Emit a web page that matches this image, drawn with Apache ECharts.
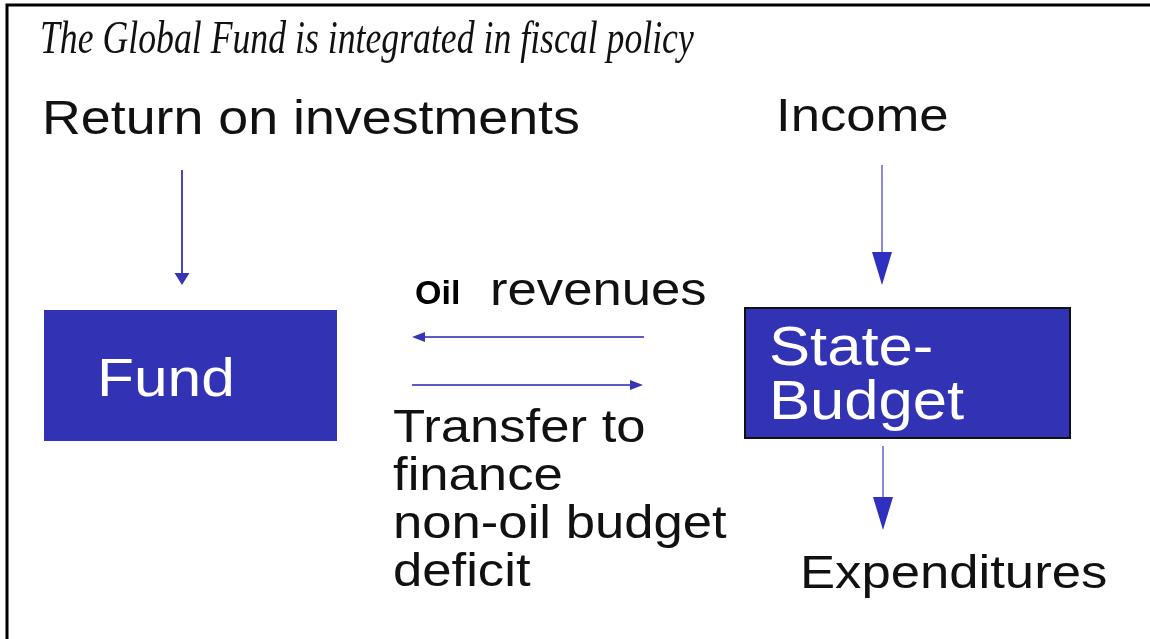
<!DOCTYPE html>
<html>
<head>
<meta charset="utf-8">
<script src="https://cdn.jsdelivr.net/npm/echarts@6/dist/echarts.min.js"></script>
<style>
  html, body { margin: 0; padding: 0; background: #fff; }
  #main { width: 1150px; height: 639px; }
</style>
</head>
<body>
<div id="main"></div>
<script>
// diagram space: x 0..1150, y 0..639 (top-down)
const boxNames = ['Fund', 'State-\nBudget'];
const boxLeft = [44, 745];
const boxTop = [310, 308];
const boxRight = [337, 1070];
const boxBottom = [441, 438];

// arrows: start -> tip
const arrowStartX = [182, 882, 883, 644, 412];
const arrowStartY = [170, 165, 446, 337, 385];
const arrowEndX = [182, 882, 883, 412, 643];
const arrowEndY = [285, 285, 530, 337, 385];

// free text labels (left x, vertical middle y)
const labelTexts = [
  'The Global Fund is integrated in fiscal policy',
  'Return on investments',
  'Income',
  'Oil',
  'revenues',
  'Transfer to\nfinance\nnon-oil budget\ndeficit',
  'Expenditures',
  'Fund',
  'State-\nBudget'
];
const labelX = [40, 42, 776, 415, 490, 393, 800, 97, 769];
const labelY = [41, 121, 118, 295, 292, 501, 575, 381, 377];

const blue = '#3232b4';
const sans = 'Liberation Sans, Arial, sans-serif';

// per-label styling
const labelStyle = [
  { size: 47, family: 'Liberation Serif, Times New Roman, serif', italic: true, sx: 0.76, color: '#111' },
  { size: 48, family: sans, sx: 1.12, color: '#111' },
  { size: 47, family: sans, sx: 1.12, color: '#111' },
  { size: 34, family: sans, bold: true, sx: 1.0, color: '#000' },
  { size: 47, family: sans, sx: 1.12, color: '#111' },
  { size: 47, family: sans, sx: 1.12, color: '#111', lh: 48 },
  { size: 47, family: sans, sx: 1.12, color: '#111' },
  { size: 54, family: sans, sx: 1.12, color: '#fff' },
  { size: 55, family: sans, sx: 1.12, color: '#fff', lh: 54 }
];

// arrow heads
const heads = [
  { len: 12, w: 15, line: '#4646c4', lw: 2, fill: '#3535b8' },
  { len: 33, w: 20, line: '#8a8ad8', lw: 2, fill: '#3030c0' },
  { len: 33, w: 20, line: '#8a8ad8', lw: 2, fill: '#3030c0' },
  { len: 13, w: 10, line: '#5a5ac8', lw: 2, fill: '#3535b8' },
  { len: 13, w: 10, line: '#5a5ac8', lw: 2, fill: '#3535b8' }
];

const boxData = boxNames.map((n, i) => [boxLeft[i], boxTop[i], boxRight[i], boxBottom[i]]);
const arrowData = arrowStartX.map((x, i) => [x, arrowStartY[i], arrowEndX[i], arrowEndY[i]]);
const labelData = labelTexts.map((t, i) => [labelX[i], labelY[i], i]);

const chart = echarts.init(document.getElementById('main'));

chart.setOption({
  backgroundColor: '#fff',
  animation: false,
  grid: { left: 0, right: 0, top: 0, bottom: 0 },
  xAxis: { type: 'value', min: 0, max: 1150, show: false },
  yAxis: { type: 'value', min: 0, max: 639, inverse: true, show: false },
  graphic: [
    // frame on the left and top
    {
      type: 'polyline',
      shape: { points: [[7, 639], [7, 5], [1150, 5]] },
      style: { stroke: '#000', lineWidth: 3, fill: null },
      z: 10
    }
  ],
  series: [
    {
      type: 'custom',
      name: 'boxes',
      data: boxData,
      z: 2,
      renderItem: function (params, api) {
        const a = api.coord([api.value(0), api.value(1)]);
        const b = api.coord([api.value(2), api.value(3)]);
        const i = params.dataIndex;
        return {
          type: 'rect',
          shape: { x: a[0], y: a[1], width: b[0] - a[0], height: b[1] - a[1] },
          style: {
            fill: blue,
            stroke: i === 1 ? '#111' : null,
            lineWidth: i === 1 ? 2 : 0
          }
        };
      }
    },
    {
      type: 'custom',
      name: 'arrows',
      data: arrowData,
      z: 3,
      renderItem: function (params, api) {
        const p0 = api.coord([api.value(0), api.value(1)]);
        const p1 = api.coord([api.value(2), api.value(3)]);
        const h = heads[params.dataIndex];
        const dx = p1[0] - p0[0], dy = p1[1] - p0[1];
        const len = Math.sqrt(dx * dx + dy * dy);
        const ux = dx / len, uy = dy / len;
        const bx = p1[0] - ux * h.len, by = p1[1] - uy * h.len;
        const nx = -uy, ny = ux;
        return {
          type: 'group',
          children: [
            {
              type: 'line',
              shape: { x1: p0[0], y1: p0[1], x2: bx + ux * 2, y2: by + uy * 2 },
              style: { stroke: h.line, lineWidth: h.lw }
            },
            {
              type: 'polygon',
              shape: { points: [[p1[0], p1[1]], [bx + nx * h.w / 2, by + ny * h.w / 2], [bx - nx * h.w / 2, by - ny * h.w / 2]] },
              style: { fill: h.fill }
            }
          ]
        };
      }
    },
    {
      type: 'custom',
      name: 'labels',
      data: labelData,
      z: 4,
      renderItem: function (params, api) {
        const p = api.coord([api.value(0), api.value(1)]);
        const i = api.value(2);
        const s = labelStyle[i];
        return {
          type: 'text',
          x: p[0],
          y: p[1],
          scaleX: s.sx,
          style: {
            x: 0,
            y: 0,
            text: labelTexts[i],
            fill: s.color,
            fontSize: s.size,
            fontFamily: s.family,
            fontStyle: s.italic ? 'italic' : 'normal',
            fontWeight: s.bold ? 'bold' : 'normal',
            lineHeight: s.lh || s.size,
            align: 'left',
            verticalAlign: 'middle'
          }
        };
      }
    }
  ]
});
</script>
</body>
</html>
